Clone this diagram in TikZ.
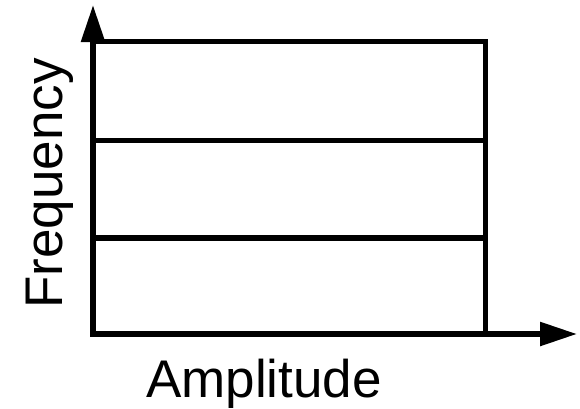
\documentclass[tikz,border=0pt]{standalone}
\usepackage{fontspec}
\setmainfont{Liberation Sans}
\usetikzlibrary{arrows.meta}
\begin{document}
\begin{tikzpicture}[x=1pt,y=-1pt,
  frame/.style={line width=5.5pt,line join=miter,line cap=rect},
  axis/.style={line width=5.5pt,line join=miter,
    arrows={Triangle[length=37pt,width=23pt]-Triangle[length=37pt,width=23pt]}},
  axislabel/.style={font=\fontsize{53}{60}\selectfont,inner sep=0pt,anchor=base}]
  \useasboundingbox (0,0) rectangle (580,408);
  % corners of the plot
  \coordinate (origin) at (93,334);
  \coordinate (ytip) at (93,5);
  \coordinate (xtip) at (577,334);
  \coordinate (tl) at (93,41.5);
  \coordinate (tr) at (485.5,41.5);
  \coordinate (br) at (485.5,334);
  % outer box and band dividers
  \draw[frame] (tl) -- (tr) -- (br);
  \draw[frame] (93,140.7) -- (485.5,140.7);
  \draw[frame] (93,238) -- (485.5,238);
  % axes with arrow heads
  \draw[axis] (ytip) -- (origin) -- (xtip);
  % axis labels
  \node[axislabel,rotate=90] (ylab) at (62,183.5) {Frequency};
  \node[axislabel] (xlab) at (264,397) {Amplitude};
\end{tikzpicture}
\end{document}
